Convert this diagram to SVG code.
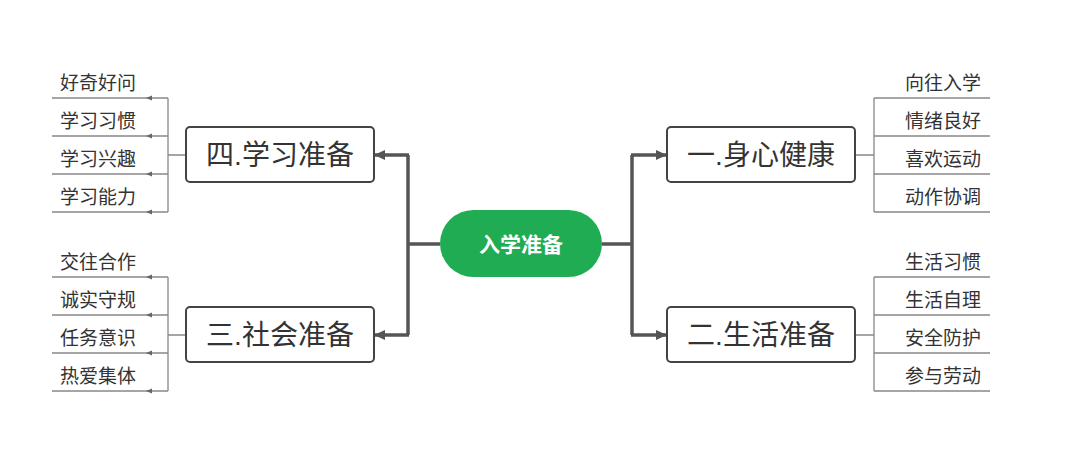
<svg xmlns="http://www.w3.org/2000/svg" width="1080" height="456" viewBox="0 0 1080 456">
<style>
.t{font-family:"Liberation Sans","Noto Sans CJK SC",sans-serif;fill:#333}
.leaf{font-size:19px}
.box{fill:#fff;stroke:#444;stroke-width:2}
.bt{font-size:28px}
.thin{stroke:#888;stroke-width:1.3;fill:none}
.thick{stroke:#555;stroke-width:3.5;fill:none}
</style>
<defs>
<marker id="a" markerWidth="11" markerHeight="10" refX="10" refY="5" orient="auto" markerUnits="userSpaceOnUse"><path d="M0,0L11,5L0,10z" fill="#555"/></marker>
</defs>
<rect width="1080" height="456" fill="#fff"/>
<g id="connectors">
<path class="thick" d="M440,244H408V155M408,244V335M602,244H632V155M632,244V335"/>
<path class="thick" d="M409,155H375" marker-end="url(#a)"/>
<path class="thick" d="M409,335H375" marker-end="url(#a)"/>
<path class="thick" d="M631,155H666" marker-end="url(#a)"/>
<path class="thick" d="M631,335H666" marker-end="url(#a)"/>
<path class="thin" d="M186,155H168M168,98V212M186,335H168M168,277V391"/>
<path class="thin" d="M168,98H52M168,136H52M168,174H52M168,212H52M168,277H52M168,315H52M168,353H52M168,391H52"/>
<g fill="#666">
<path d="M146,98l6,-2.5v5z"/><path d="M146,136l6,-2.5v5z"/><path d="M146,174l6,-2.5v5z"/><path d="M146,212l6,-2.5v5z"/>
<path d="M146,277l6,-2.5v5z"/><path d="M146,315l6,-2.5v5z"/><path d="M146,353l6,-2.5v5z"/><path d="M146,391l6,-2.5v5z"/>
</g>
<path class="thin" d="M855,155H874M874,98V212M855,335H874M874,277V391"/>
<path class="thin" d="M874,98H990M874,136H990M874,174H990M874,212H990M874,277H990M874,315H990M874,353H990M874,391H990"/>
</g>
<g id="center"><rect x="440" y="210" width="162" height="67" rx="33.5" fill="#1fac52"/><text class="t" x="521" y="252" font-size="21" font-weight="bold" text-anchor="middle" style="fill:#fff">入学准备</text></g>
<g id="n4"><rect class="box" x="186" y="127" width="188" height="55" rx="4"/><text class="t bt" x="280" y="165" text-anchor="middle">四.学习准备</text></g>
<g id="n3"><rect class="box" x="186" y="307" width="188" height="55" rx="4"/><text class="t bt" x="280" y="345" text-anchor="middle">三.社会准备</text></g>
<g id="n1"><rect class="box" x="667" y="127" width="188" height="55" rx="4"/><text class="t bt" x="761" y="165" text-anchor="middle">一.身心健康</text></g>
<g id="n2"><rect class="box" x="667" y="307" width="188" height="55" rx="4"/><text class="t bt" x="761" y="345" text-anchor="middle">二.生活准备</text></g>
<g id="leaves-left" class="t leaf">
<text x="60" y="90">好奇好问</text><text x="60" y="128">学习习惯</text><text x="60" y="166">学习兴趣</text><text x="60" y="204">学习能力</text>
<text x="60" y="269">交往合作</text><text x="60" y="307">诚实守规</text><text x="60" y="345">任务意识</text><text x="60" y="383">热爱集体</text>
</g>
<g id="leaves-right" class="t leaf" text-anchor="end">
<text x="981" y="90">向往入学</text><text x="981" y="128">情绪良好</text><text x="981" y="166">喜欢运动</text><text x="981" y="204">动作协调</text>
<text x="981" y="269">生活习惯</text><text x="981" y="307">生活自理</text><text x="981" y="345">安全防护</text><text x="981" y="383">参与劳动</text>
</g>
</svg>
